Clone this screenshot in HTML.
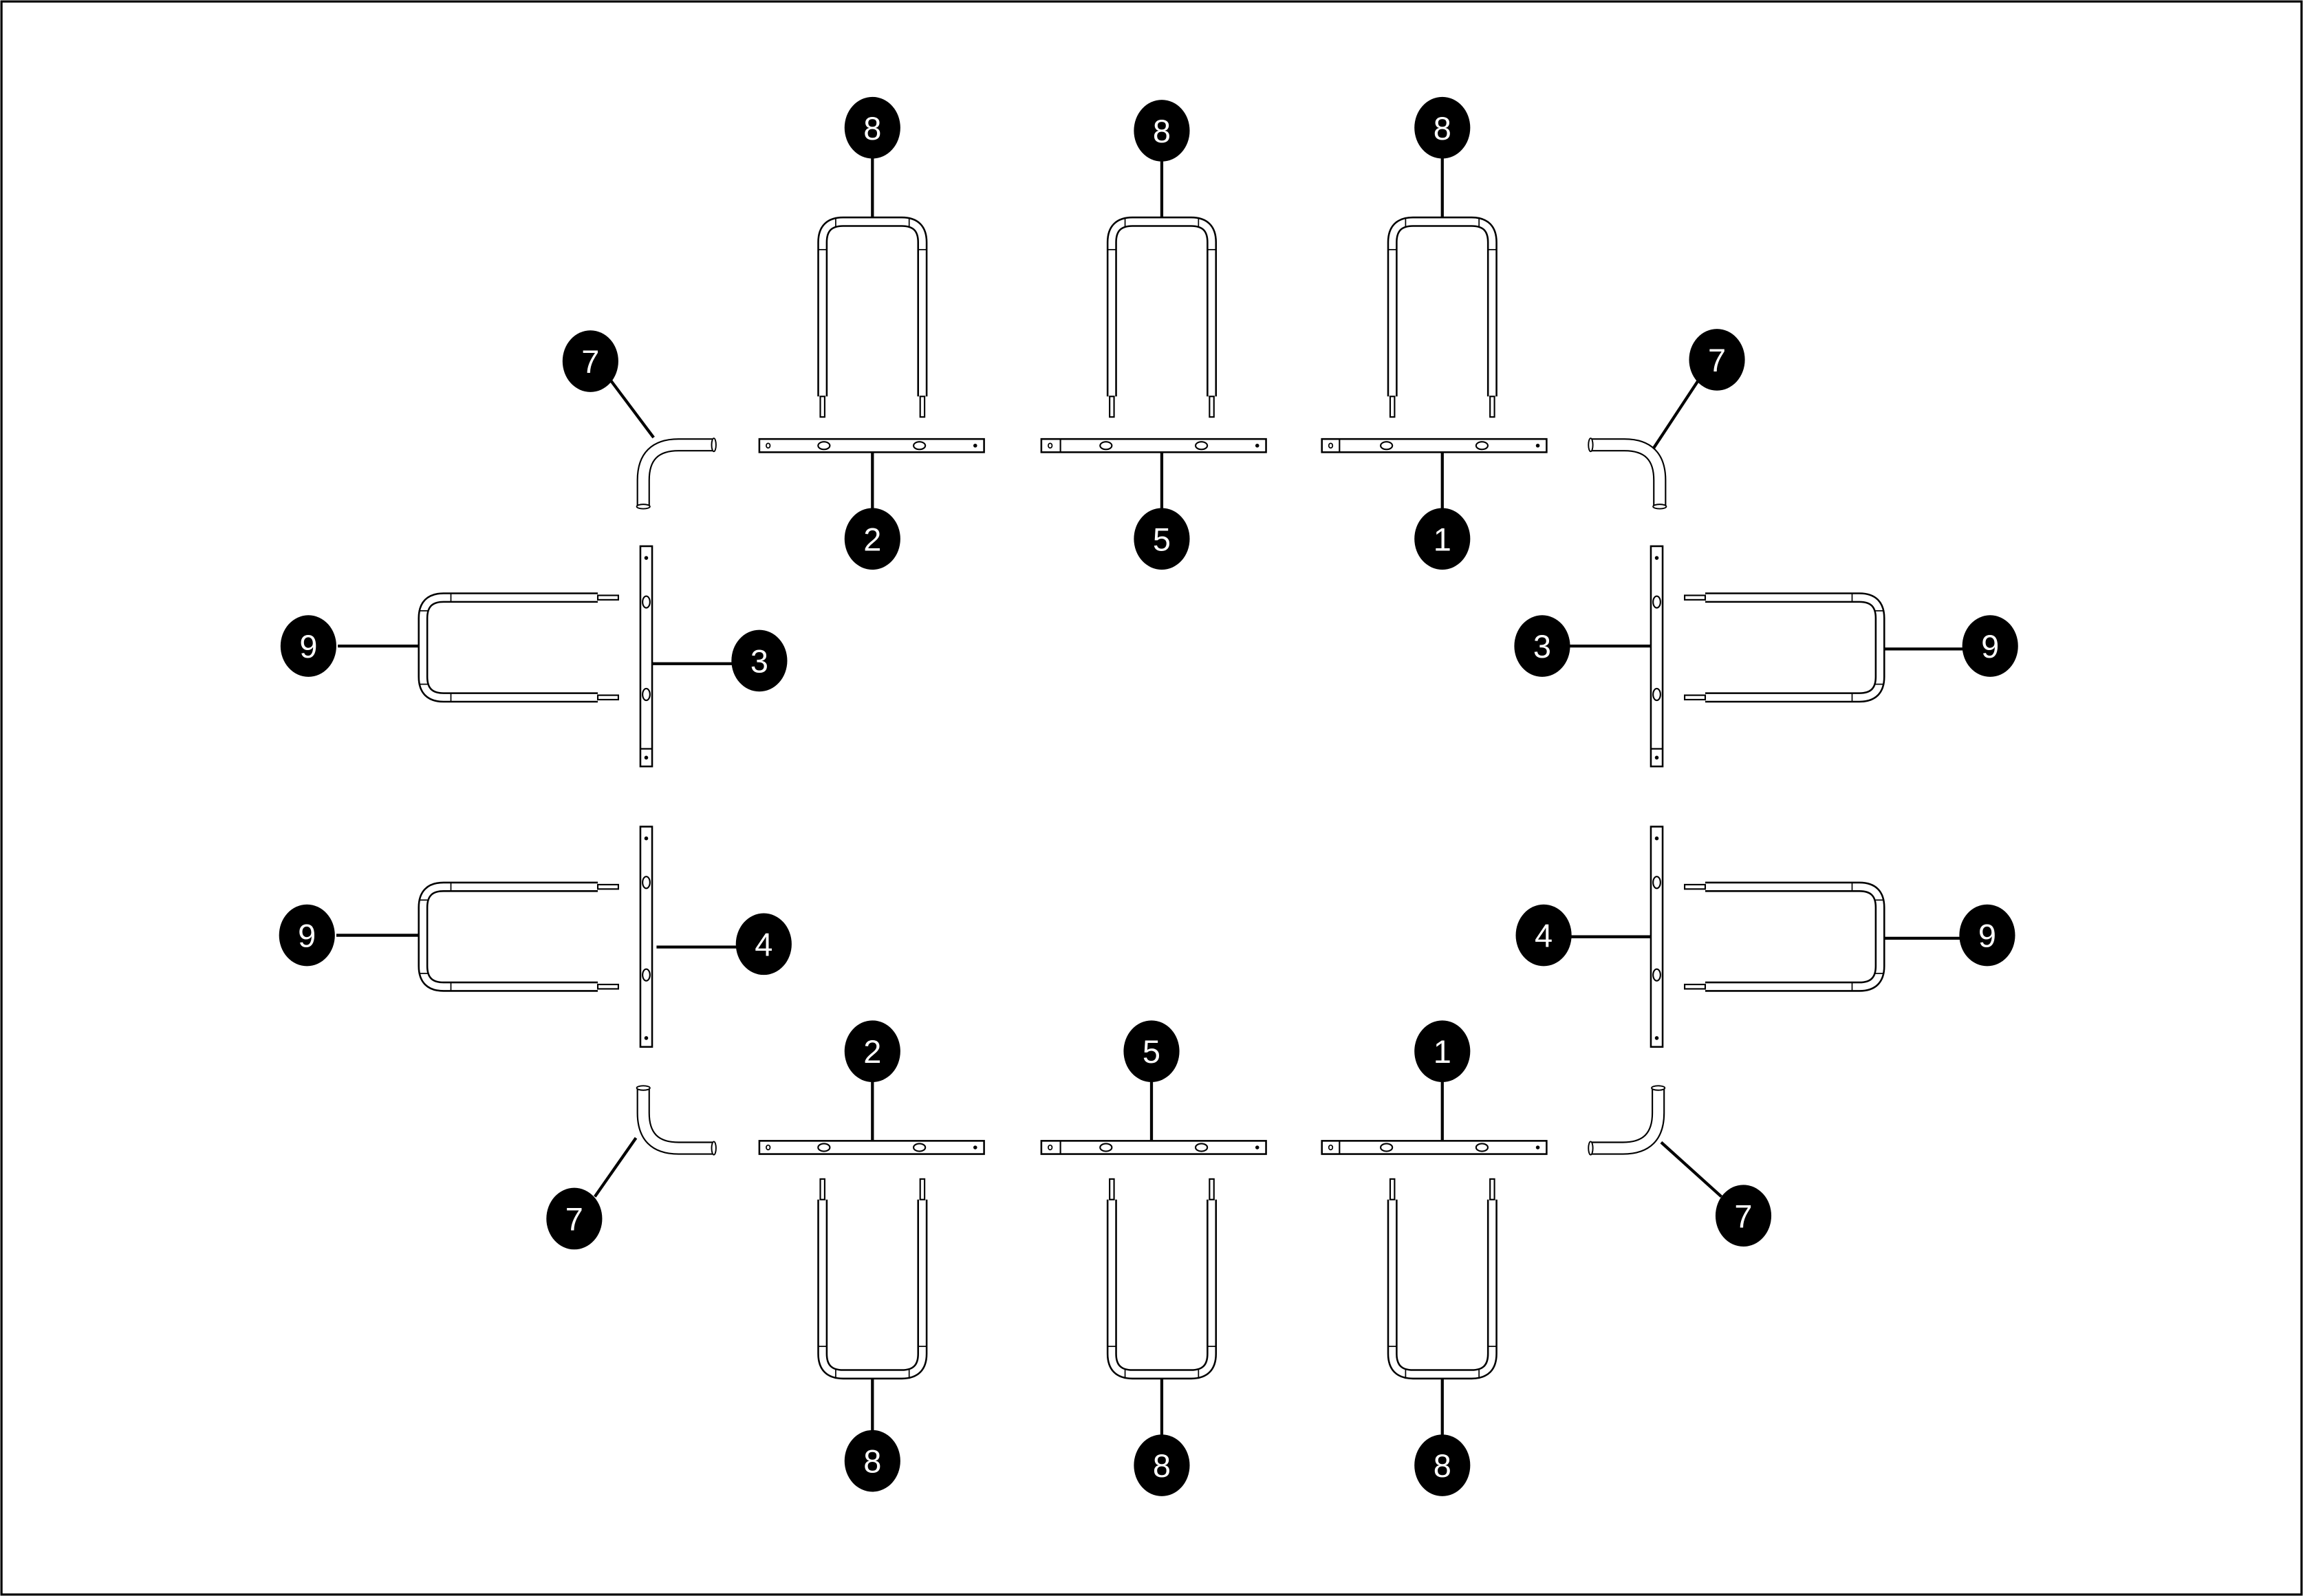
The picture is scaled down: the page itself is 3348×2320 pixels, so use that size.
<!DOCTYPE html>
<html><head><meta charset="utf-8"><style>
html,body{margin:0;padding:0;background:#fff;}
svg{display:block;}
text{font-family:"Liberation Sans",sans-serif;font-size:22px;fill:#fff;text-anchor:middle;}
</style></head><body>
<svg width="3348" height="2320" viewBox="0 0 1568 1087" preserveAspectRatio="none" xmlns="http://www.w3.org/2000/svg">
<defs>
<g id="u">
<path d="M-34 122 V17 Q-34 3 -20 3 H20 Q34 3 34 17 V122" fill="none" stroke="#000" stroke-width="7"/>
<path d="M-34 122 V17 Q-34 3 -20 3 H20 Q34 3 34 17 V122" fill="none" stroke="#fff" stroke-width="4.6"/>
<rect x="-35.5" y="122" width="3" height="14" fill="#fff" stroke="#000" stroke-width="1"/>
<rect x="32.5" y="122" width="3" height="14" fill="#fff" stroke="#000" stroke-width="1"/>
<line x1="-25" y1="0" x2="-25" y2="7" stroke="#000" stroke-width="0.8"/>
<line x1="25" y1="0" x2="25" y2="7" stroke="#000" stroke-width="0.8"/>
<line x1="-37" y1="22" x2="-31" y2="22" stroke="#000" stroke-width="0.8"/>
<line x1="31" y1="22" x2="37" y2="22" stroke="#000" stroke-width="0.8"/>
</g>
<g id="hb">
<rect x="0" y="0" width="153" height="9" fill="#fff" stroke="#000" stroke-width="1.2"/>
<ellipse cx="6" cy="4.5" rx="1.3" ry="1.6" fill="none" stroke="#000" stroke-width="0.8"/>
<ellipse cx="44" cy="4.5" rx="4" ry="2.6" fill="none" stroke="#000" stroke-width="1"/>
<ellipse cx="109" cy="4.5" rx="4" ry="2.6" fill="none" stroke="#000" stroke-width="1"/>
<circle cx="147" cy="4.5" r="1.3" fill="#000"/>
</g>
<g id="vb">
<rect x="0" y="0" width="8" height="150" fill="#fff" stroke="#000" stroke-width="1.2"/>
<circle cx="4" cy="8" r="1.3" fill="#000"/>
<ellipse cx="4" cy="38" rx="2.5" ry="4" fill="none" stroke="#000" stroke-width="1"/>
<ellipse cx="4" cy="101" rx="2.5" ry="4" fill="none" stroke="#000" stroke-width="1"/>
<circle cx="4" cy="144" r="1.3" fill="#000"/>
</g>
<path id="el" d="M0 42 V24 Q0 0 24 0 H47" fill="none"/>
</defs>
<rect x="1" y="1" width="1566" height="1085" fill="#fff" stroke="#000" stroke-width="1.5"/>

<g stroke="#000" stroke-width="2">
<!-- top leaders -->
<line x1="594" y1="100" x2="594" y2="150"/><line x1="791" y1="100" x2="791" y2="150"/><line x1="982" y1="100" x2="982" y2="150"/>
<line x1="594" y1="308" x2="594" y2="350"/><line x1="791" y1="308" x2="791" y2="350"/><line x1="982" y1="308" x2="982" y2="350"/>
<line x1="415" y1="258" x2="445" y2="298"/><line x1="1157" y1="258" x2="1126" y2="305"/>
<line x1="444" y1="452" x2="500" y2="452"/><line x1="230" y1="440" x2="287" y2="440"/>
<line x1="1068" y1="440" x2="1126" y2="440"/><line x1="1282" y1="442" x2="1338" y2="442"/>
<line x1="447" y1="645" x2="503" y2="645"/><line x1="229" y1="637" x2="287" y2="637"/>
<line x1="1069" y1="638" x2="1128" y2="638"/><line x1="1281" y1="639" x2="1336" y2="639"/>
<line x1="594" y1="730" x2="594" y2="778"/><line x1="784" y1="730" x2="784" y2="778"/><line x1="982" y1="730" x2="982" y2="778"/>
<line x1="594" y1="937" x2="594" y2="980"/><line x1="791" y1="939" x2="791" y2="983"/><line x1="982" y1="939" x2="982" y2="983"/>
<line x1="405" y1="815" x2="433" y2="775"/><line x1="1172" y1="815" x2="1131" y2="778"/>
</g>

<!-- top U's -->
<use href="#u" transform="translate(594,148)"/>
<use href="#u" transform="translate(791,148)"/>
<use href="#u" transform="translate(982,148)"/>
<!-- bottom U's -->
<use href="#u" transform="translate(594,939) scale(1,-1)"/>
<use href="#u" transform="translate(791,939) scale(1,-1)"/>
<use href="#u" transform="translate(982,939) scale(1,-1)"/>
<!-- side U's -->
<use href="#u" transform="translate(285,441) rotate(-90)"/>
<use href="#u" transform="translate(285,638) rotate(-90)"/>
<use href="#u" transform="translate(1283,441) rotate(90)"/>
<use href="#u" transform="translate(1283,638) rotate(90)"/>

<!-- horizontal bars -->
<use href="#hb" transform="translate(517,299)"/>
<use href="#hb" transform="translate(709,299)"/>
<use href="#hb" transform="translate(900,299)"/>
<use href="#hb" transform="translate(517,777)"/>
<use href="#hb" transform="translate(709,777)"/>
<use href="#hb" transform="translate(900,777)"/>
<g stroke="#000" stroke-width="1"><line x1="722" y1="299" x2="722" y2="308"/><line x1="912" y1="299" x2="912" y2="308"/><line x1="722" y1="777" x2="722" y2="786"/><line x1="912" y1="777" x2="912" y2="786"/></g>

<!-- vertical bars -->
<use href="#vb" transform="translate(436,372)"/>
<use href="#vb" transform="translate(436,563)"/>
<use href="#vb" transform="translate(1124,372)"/>
<use href="#vb" transform="translate(1124,563)"/>
<g stroke="#000" stroke-width="1"><line x1="436" y1="510" x2="444" y2="510"/><line x1="1124" y1="510" x2="1132" y2="510"/></g>

<!-- elbows -->
<g fill="none">
<use href="#el" transform="translate(438,303)" stroke="#000" stroke-width="9"/>
<use href="#el" transform="translate(438,303)" stroke="#fff" stroke-width="7"/>
<use href="#el" transform="translate(1130,303) scale(-1,1)" stroke="#000" stroke-width="9"/>
<use href="#el" transform="translate(1130,303) scale(-1,1)" stroke="#fff" stroke-width="7"/>
<use href="#el" transform="translate(438,782) scale(1,-1)" stroke="#000" stroke-width="9"/>
<use href="#el" transform="translate(438,782) scale(1,-1)" stroke="#fff" stroke-width="7"/>
<use href="#el" transform="translate(1129,782) scale(-1,-1)" stroke="#000" stroke-width="9"/>
<use href="#el" transform="translate(1129,782) scale(-1,-1)" stroke="#fff" stroke-width="7"/>
</g>
<g fill="#fff" stroke="#000" stroke-width="0.9">
<ellipse cx="438" cy="345" rx="4.5" ry="1.5"/><ellipse cx="486" cy="303" rx="1.5" ry="4.5"/>
<ellipse cx="1130" cy="345" rx="4.5" ry="1.5"/><ellipse cx="1083" cy="303" rx="1.5" ry="4.5"/>
<ellipse cx="438" cy="741" rx="4.5" ry="1.5"/><ellipse cx="486" cy="782" rx="1.5" ry="4.5"/>
<ellipse cx="1129" cy="741" rx="4.5" ry="1.5"/><ellipse cx="1083" cy="782" rx="1.5" ry="4.5"/>
</g>

<!-- callouts -->
<g fill="#000">
<ellipse cx="594" cy="87" rx="19" ry="21"/><ellipse cx="791" cy="89" rx="19" ry="21"/><ellipse cx="982" cy="87" rx="19" ry="21"/>
<ellipse cx="402" cy="246" rx="19" ry="21"/><ellipse cx="1169" cy="245" rx="19" ry="21"/>
<ellipse cx="594" cy="367" rx="19" ry="21"/><ellipse cx="791" cy="367" rx="19" ry="21"/><ellipse cx="982" cy="367" rx="19" ry="21"/>
<ellipse cx="210" cy="440" rx="19" ry="21"/><ellipse cx="517" cy="450" rx="19" ry="21"/>
<ellipse cx="1050" cy="440" rx="19" ry="21"/><ellipse cx="1355" cy="440" rx="19" ry="21"/>
<ellipse cx="209" cy="637" rx="19" ry="21"/><ellipse cx="520" cy="643" rx="19" ry="21"/>
<ellipse cx="1051" cy="637" rx="19" ry="21"/><ellipse cx="1353" cy="637" rx="19" ry="21"/>
<ellipse cx="594" cy="716" rx="19" ry="21"/><ellipse cx="784" cy="716" rx="19" ry="21"/><ellipse cx="982" cy="716" rx="19" ry="21"/>
<ellipse cx="391" cy="830" rx="19" ry="21"/><ellipse cx="1187" cy="828" rx="19" ry="21"/>
<ellipse cx="594" cy="995" rx="19" ry="21"/><ellipse cx="791" cy="998" rx="19" ry="21"/><ellipse cx="982" cy="998" rx="19" ry="21"/>
</g>
<g>
<text x="594" y="95">8</text><text x="791" y="97">8</text><text x="982" y="95">8</text>
<text x="402" y="254">7</text><text x="1169" y="253">7</text>
<text x="594" y="375">2</text><text x="791" y="375">5</text><text x="982" y="375">1</text>
<text x="210" y="448">9</text><text x="517" y="458">3</text>
<text x="1050" y="448">3</text><text x="1355" y="448">9</text>
<text x="209" y="645">9</text><text x="520" y="651">4</text>
<text x="1051" y="645">4</text><text x="1353" y="645">9</text>
<text x="594" y="724">2</text><text x="784" y="724">5</text><text x="982" y="724">1</text>
<text x="391" y="838">7</text><text x="1187" y="836">7</text>
<text x="594" y="1003">8</text><text x="791" y="1006">8</text><text x="982" y="1006">8</text>
</g>
</svg>
</body></html>
